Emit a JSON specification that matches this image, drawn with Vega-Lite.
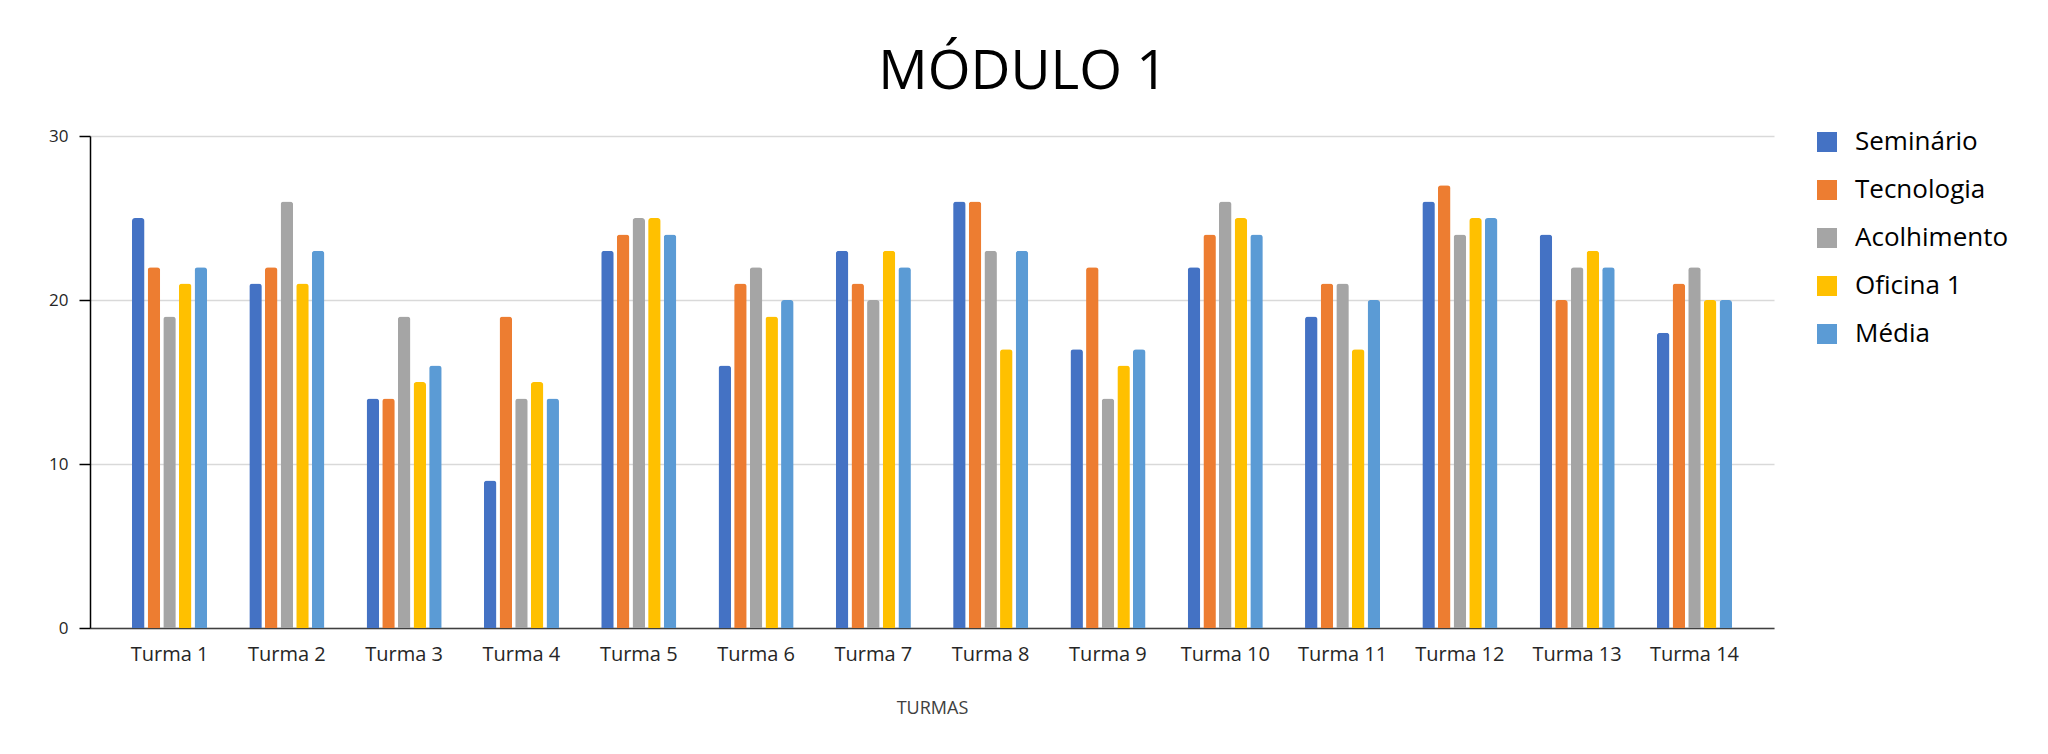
{
  "$schema": "https://vega.github.io/schema/vega-lite/v6.json",
  "width": 1684,
  "height": 492,
  "autosize": {"type": "none"},
  "padding": {"left": 90, "top": 136, "right": 274, "bottom": 126},
  "background": "white",
  "config": {
    "font": "Open Sans",
    "view": {"stroke": null}
  },
  "title": {
    "text": "MÓDULO 1",
    "fontSize": 55,
    "fontWeight": "normal",
    "color": "#000000",
    "anchor": "middle",
    "frame": "group",
    "dx": 91,
    "baseline": "alphabetic",
    "offset": -17
  },
  "data": {
    "values": [
      {"turma": "Turma 1", "categoria": "Seminário", "valor": 25},
      {"turma": "Turma 1", "categoria": "Tecnologia", "valor": 22},
      {"turma": "Turma 1", "categoria": "Acolhimento", "valor": 19},
      {"turma": "Turma 1", "categoria": "Oficina 1", "valor": 21},
      {"turma": "Turma 1", "categoria": "Média", "valor": 22},
      {"turma": "Turma 2", "categoria": "Seminário", "valor": 21},
      {"turma": "Turma 2", "categoria": "Tecnologia", "valor": 22},
      {"turma": "Turma 2", "categoria": "Acolhimento", "valor": 26},
      {"turma": "Turma 2", "categoria": "Oficina 1", "valor": 21},
      {"turma": "Turma 2", "categoria": "Média", "valor": 23},
      {"turma": "Turma 3", "categoria": "Seminário", "valor": 14},
      {"turma": "Turma 3", "categoria": "Tecnologia", "valor": 14},
      {"turma": "Turma 3", "categoria": "Acolhimento", "valor": 19},
      {"turma": "Turma 3", "categoria": "Oficina 1", "valor": 15},
      {"turma": "Turma 3", "categoria": "Média", "valor": 16},
      {"turma": "Turma 4", "categoria": "Seminário", "valor": 9},
      {"turma": "Turma 4", "categoria": "Tecnologia", "valor": 19},
      {"turma": "Turma 4", "categoria": "Acolhimento", "valor": 14},
      {"turma": "Turma 4", "categoria": "Oficina 1", "valor": 15},
      {"turma": "Turma 4", "categoria": "Média", "valor": 14},
      {"turma": "Turma 5", "categoria": "Seminário", "valor": 23},
      {"turma": "Turma 5", "categoria": "Tecnologia", "valor": 24},
      {"turma": "Turma 5", "categoria": "Acolhimento", "valor": 25},
      {"turma": "Turma 5", "categoria": "Oficina 1", "valor": 25},
      {"turma": "Turma 5", "categoria": "Média", "valor": 24},
      {"turma": "Turma 6", "categoria": "Seminário", "valor": 16},
      {"turma": "Turma 6", "categoria": "Tecnologia", "valor": 21},
      {"turma": "Turma 6", "categoria": "Acolhimento", "valor": 22},
      {"turma": "Turma 6", "categoria": "Oficina 1", "valor": 19},
      {"turma": "Turma 6", "categoria": "Média", "valor": 20},
      {"turma": "Turma 7", "categoria": "Seminário", "valor": 23},
      {"turma": "Turma 7", "categoria": "Tecnologia", "valor": 21},
      {"turma": "Turma 7", "categoria": "Acolhimento", "valor": 20},
      {"turma": "Turma 7", "categoria": "Oficina 1", "valor": 23},
      {"turma": "Turma 7", "categoria": "Média", "valor": 22},
      {"turma": "Turma 8", "categoria": "Seminário", "valor": 26},
      {"turma": "Turma 8", "categoria": "Tecnologia", "valor": 26},
      {"turma": "Turma 8", "categoria": "Acolhimento", "valor": 23},
      {"turma": "Turma 8", "categoria": "Oficina 1", "valor": 17},
      {"turma": "Turma 8", "categoria": "Média", "valor": 23},
      {"turma": "Turma 9", "categoria": "Seminário", "valor": 17},
      {"turma": "Turma 9", "categoria": "Tecnologia", "valor": 22},
      {"turma": "Turma 9", "categoria": "Acolhimento", "valor": 14},
      {"turma": "Turma 9", "categoria": "Oficina 1", "valor": 16},
      {"turma": "Turma 9", "categoria": "Média", "valor": 17},
      {"turma": "Turma 10", "categoria": "Seminário", "valor": 22},
      {"turma": "Turma 10", "categoria": "Tecnologia", "valor": 24},
      {"turma": "Turma 10", "categoria": "Acolhimento", "valor": 26},
      {"turma": "Turma 10", "categoria": "Oficina 1", "valor": 25},
      {"turma": "Turma 10", "categoria": "Média", "valor": 24},
      {"turma": "Turma 11", "categoria": "Seminário", "valor": 19},
      {"turma": "Turma 11", "categoria": "Tecnologia", "valor": 21},
      {"turma": "Turma 11", "categoria": "Acolhimento", "valor": 21},
      {"turma": "Turma 11", "categoria": "Oficina 1", "valor": 17},
      {"turma": "Turma 11", "categoria": "Média", "valor": 20},
      {"turma": "Turma 12", "categoria": "Seminário", "valor": 26},
      {"turma": "Turma 12", "categoria": "Tecnologia", "valor": 27},
      {"turma": "Turma 12", "categoria": "Acolhimento", "valor": 24},
      {"turma": "Turma 12", "categoria": "Oficina 1", "valor": 25},
      {"turma": "Turma 12", "categoria": "Média", "valor": 25},
      {"turma": "Turma 13", "categoria": "Seminário", "valor": 24},
      {"turma": "Turma 13", "categoria": "Tecnologia", "valor": 20},
      {"turma": "Turma 13", "categoria": "Acolhimento", "valor": 22},
      {"turma": "Turma 13", "categoria": "Oficina 1", "valor": 23},
      {"turma": "Turma 13", "categoria": "Média", "valor": 22},
      {"turma": "Turma 14", "categoria": "Seminário", "valor": 18},
      {"turma": "Turma 14", "categoria": "Tecnologia", "valor": 21},
      {"turma": "Turma 14", "categoria": "Acolhimento", "valor": 22},
      {"turma": "Turma 14", "categoria": "Oficina 1", "valor": 20},
      {"turma": "Turma 14", "categoria": "Média", "valor": 20}
    ]
  },
  "mark": {"type": "bar", "cornerRadiusTopLeft": 3, "cornerRadiusTopRight": 3},
  "encoding": {
    "x": {
      "field": "turma",
      "type": "nominal",
      "sort": null,
      "scale": {"paddingInner": 0.36, "paddingOuter": 0.358},
      "axis": {
        "title": "TURMAS",
        "titleFont": "Open Sans",
        "titleFontSize": 18,
        "titleFontWeight": "normal",
        "titleColor": "#404040",
        "titleBaseline": "alphabetic",
        "titleY": 85,
        "labelAngle": 0,
        "labelFontSize": 20,
        "labelColor": "#262626",
        "labelBaseline": "alphabetic",
        "labelPadding": 32,
        "ticks": false,
        "tickSize": 0,
        "domainColor": "#404040",
        "domainWidth": 1.5,
        "grid": false
      }
    },
    "xOffset": {
      "field": "categoria",
      "type": "nominal",
      "sort": ["Seminário", "Tecnologia", "Acolhimento", "Oficina 1", "Média"],
      "scale": {"paddingInner": 0.2, "paddingOuter": 0}
    },
    "y": {
      "field": "valor",
      "type": "quantitative",
      "scale": {"domain": [0, 30], "nice": false},
      "axis": {
        "title": null,
        "values": [0, 10, 20, 30],
        "labelFontSize": 17,
        "labelColor": "#262626",
        "labelPadding": 11,
        "tickSize": 11,
        "tickColor": "#000000",
        "tickWidth": 1.5,
        "domainColor": "#000000",
        "domainWidth": 1.5,
        "gridColor": "#D9D9D9",
        "gridWidth": 1.5
      }
    },
    "color": {
      "field": "categoria",
      "type": "nominal",
      "scale": {
        "domain": ["Seminário", "Tecnologia", "Acolhimento", "Oficina 1", "Média"],
        "range": ["#4472C4", "#ED7D31", "#A5A5A5", "#FFC000", "#5B9BD5"]
      },
      "legend": {
        "title": null,
        "orient": "none",
        "legendX": 1724,
        "legendY": -7,
        "padding": 0,
        "symbolType": "square",
        "symbolSize": 400,
        "symbolStrokeWidth": 0,
        "labelFontSize": 26,
        "labelColor": "#000000",
        "labelOffset": 15,
        "rowPadding": 22,
        "labelLimit": 300
      }
    }
  }
}
